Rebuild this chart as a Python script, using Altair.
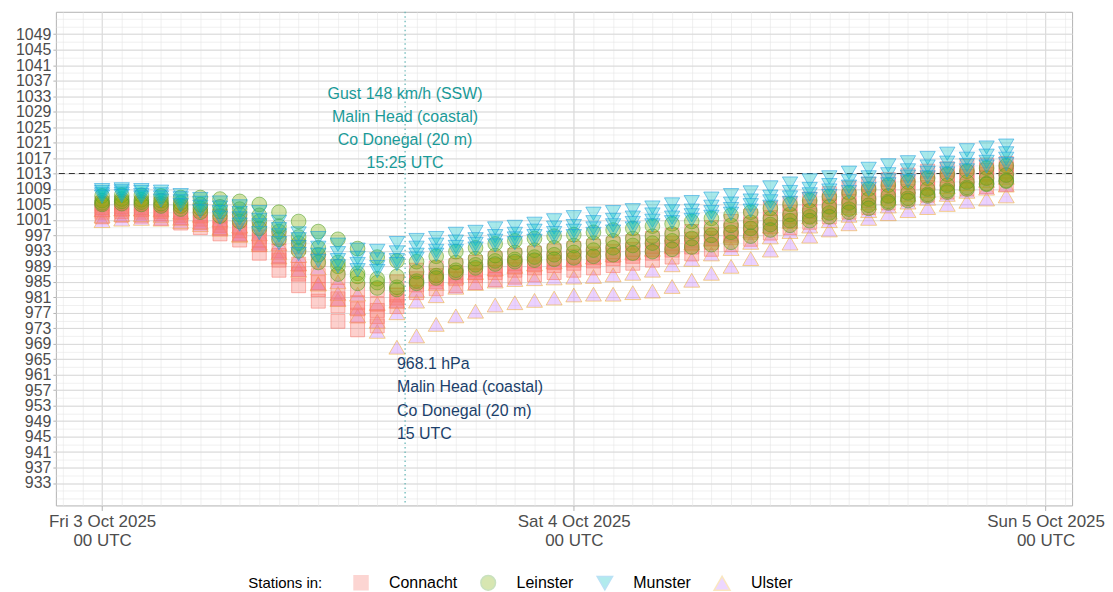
import altair as alt
import pandas as pd

# ---------------------------------------------------------------- data
PROVINCES = ["Connacht", "Leinster", "Munster", "Ulster"]
# hourly mean-sea-level pressure (hPa), hour 0 = Fri 3 Oct 2025 00 UTC
connacht = {
    "C1": [1005.2, 1005.4, 1005.2, 1005.0, 1004.4, 1003.4, 1002.0, 1001.0, 998.6, 996.4,
           994.0, 990.6, 986.2, 983.0, 983.0, 985.0, 988.0, 988.6, 989.2, 990.0,
           991.0, 991.8, 992.4, 993.0, 993.6, 994.2, 994.8, 995.4, 996.2, 997.0,
           998.0, 999.0, 1000.6, 1002.0, 1004.0, 1005.2, 1006.4, 1007.8, 1009.2, 1010.2,
           1011.4, 1012.6, 1013.6, 1014.2, 1014.8, 1015.2, 1015.6],
    "C2": [1004.2, 1004.4, 1004.2, 1003.8, 1003.0, 1002.0, 1000.4, 999.0, 996.6, 993.0,
           989.6, 986.6, 982.6, 979.6, 979.2, 981.6, 985.8, 986.6, 987.4, 988.2,
           989.2, 989.8, 990.4, 991.0, 991.6, 992.2, 992.8, 993.4, 994.2, 995.0,
           996.0, 997.2, 998.4, 999.8, 1001.6, 1003.0, 1004.4, 1005.8, 1007.0, 1008.2,
           1009.4, 1010.6, 1011.6, 1012.4, 1013.2, 1013.8, 1014.2],
    "C3": [1003.6, 1003.8, 1003.6, 1003.2, 1002.2, 1001.2, 999.6, 998.2, 995.6, 991.8,
           988.2, 984.8, 980.6, 978.0, 977.6, 980.8, 985.0, 985.8, 986.6, 987.4,
           988.2, 988.8, 989.4, 990.0, 990.6, 991.2, 991.8, 992.4, 993.2, 994.0,
           995.0, 996.2, 997.4, 998.8, 1000.4, 1001.8, 1003.2, 1004.6, 1005.8, 1007.0,
           1008.2, 1009.4, 1010.4, 1011.4, 1012.2, 1012.8, 1013.4],
    "C4": [1003.0, 1003.2, 1003.0, 1002.6, 1001.6, 1000.4, 998.8, 997.4, 994.6, 990.6,
           987.0, 983.0, 978.8, 976.4, 976.0, 980.0, 984.2, 985.0, 985.8, 986.6,
           987.4, 988.0, 988.6, 989.2, 989.8, 990.4, 991.0, 991.6, 992.4, 993.2,
           994.0, 995.2, 996.4, 997.8, 999.2, 1000.8, 1002.2, 1003.6, 1004.8, 1006.0,
           1007.2, 1008.4, 1009.4, 1010.4, 1011.2, 1012.0, 1012.6],
    "C5": [1001.8, 1002.2, 1002.0, 1001.4, 1000.2, 999.0, 997.4, 995.8, 992.4, 988.0,
           984.0, 980.0, 974.8, 972.6, 973.6, 978.6, 982.2, 983.2, 984.0, 984.8,
           985.6, 986.2, 986.8, 987.4, 988.0, 988.6, 989.2, 989.8, 990.6, 991.4,
           992.2, 993.4, 994.6, 996.0, 997.6, 999.0, 1000.4, 1001.8, 1003.0, 1004.2,
           1005.4, 1006.4, 1007.4, 1008.2, 1009.0, 1009.6, 1010.2],
}
leinster = {
    "L1": [1007.2, 1007.4, 1007.4, 1007.2, 1006.8, 1006.8, 1006.4, 1005.8, 1005.0, 1003.0,
           1000.6, 998.0, 996.0, 993.6, 991.4, 990.4, 990.2, 991.6, 992.8, 993.8,
           994.8, 995.6, 996.2, 996.8, 997.2, 997.8, 998.4, 998.8, 999.4, 1000.0,
           1000.6, 1001.4, 1002.2, 1003.0, 1004.0, 1005.0, 1006.0, 1007.0, 1008.0, 1009.0,
           1010.0, 1010.8, 1011.8, 1012.8, 1013.6, 1014.4, 1015.0],
    "L2": [1006.0, 1006.4, 1006.2, 1006.0, 1005.4, 1005.0, 1004.4, 1003.8, 1002.2, 999.4,
           996.6, 993.8, 990.0, 987.2, 984.8, 983.6, 985.2, 986.6, 988.0, 989.4,
           990.4, 990.8, 991.4, 992.0, 992.6, 993.2, 993.8, 994.4, 995.0, 995.6,
           996.2, 997.0, 997.8, 998.8, 999.8, 1000.8, 1001.8, 1002.8, 1003.8, 1004.8,
           1005.8, 1006.6, 1007.6, 1008.6, 1009.4, 1010.4, 1011.2],
    "L3": [1005.4, 1005.8, 1005.6, 1005.2, 1004.6, 1004.0, 1003.2, 1002.4, 1000.6, 998.0,
           995.0, 992.0, 989.0, 986.4, 985.8, 986.4, 987.6, 988.8, 990.0, 991.0,
           991.8, 992.6, 993.2, 993.8, 994.4, 995.0, 995.6, 996.2, 996.8, 997.4,
           998.0, 998.8, 999.6, 1000.4, 1001.4, 1002.4, 1003.4, 1004.4, 1005.4, 1006.4,
           1007.2, 1008.0, 1009.0, 1010.0, 1010.8, 1011.8, 1012.6],
    "L4": [1005.0, 1005.2, 1005.0, 1004.6, 1003.8, 1003.0, 1002.0, 1000.6, 998.8, 996.0,
           993.0, 990.0, 987.0, 984.6, 983.4, 983.0, 984.6, 986.0, 987.4, 988.6,
           989.6, 990.2, 990.6, 990.8, 991.2, 991.6, 992.0, 992.4, 992.8, 993.4,
           994.0, 994.6, 995.2, 996.8, 998.4, 999.6, 1000.8, 1001.8, 1003.0, 1004.0,
           1005.4, 1006.0, 1007.2, 1008.2, 1009.0, 1010.2, 1011.0],
}
munster = {
    "M1": [1008.7, 1008.9, 1008.7, 1008.3, 1007.4, 1006.4, 1005.5, 1004.5, 1003.0, 1000.5,
           997.5, 996.3, 994.6, 993.3, 993.0, 995.0, 995.8, 996.3, 997.4, 997.9,
           998.8, 999.2, 1000.0, 1000.9, 1001.7, 1002.6, 1003.0, 1003.5, 1004.2, 1005.0,
           1005.6, 1006.5, 1007.4, 1008.1, 1009.4, 1010.4, 1011.2, 1012.0, 1013.2, 1014.2,
           1015.1, 1015.9, 1017.0, 1018.1, 1019.0, 1019.7, 1020.2],
    "M2": [1008.2, 1008.4, 1008.2, 1007.6, 1006.6, 1005.4, 1004.2, 1002.8, 1001.0, 998.6,
           996.0, 993.8, 992.4, 991.2, 990.8, 992.6, 993.8, 994.6, 995.4, 996.0,
           996.8, 997.4, 998.2, 999.0, 999.4, 1000.4, 1001.0, 1001.6, 1002.4, 1003.2,
           1003.4, 1004.4, 1005.2, 1006.0, 1007.0, 1008.2, 1009.0, 1010.0, 1011.0, 1012.0,
           1012.8, 1013.8, 1014.8, 1015.8, 1016.8, 1017.6, 1018.2],
    "M3": [1007.6, 1007.8, 1007.4, 1006.8, 1005.8, 1004.4, 1003.0, 1001.4, 999.6, 997.0,
           994.0, 992.0, 990.6, 989.6, 988.8, 990.6, 992.0, 993.0, 994.0, 994.8,
           995.6, 996.2, 996.8, 997.6, 998.2, 998.8, 999.6, 1000.2, 1000.8, 1001.6,
           1002.2, 1003.0, 1003.8, 1004.8, 1005.8, 1006.8, 1007.6, 1008.6, 1009.6, 1010.4,
           1011.2, 1012.2, 1013.2, 1014.2, 1015.2, 1016.0, 1016.8],
    "M4": [1007.0, 1007.2, 1006.8, 1006.0, 1004.8, 1003.2, 1001.6, 999.8, 997.6, 995.0,
           992.2, 990.4, 989.0, 988.0, 987.8, 989.6, 991.0, 992.0, 993.0, 993.6,
           994.4, 995.0, 995.6, 996.4, 996.8, 997.4, 998.0, 998.8, 999.6, 1000.4,
           1001.0, 1001.8, 1002.6, 1003.4, 1004.4, 1005.4, 1006.4, 1007.2, 1008.2, 1009.0,
           1010.2, 1011.0, 1012.0, 1013.0, 1013.8, 1014.8, 1015.4],
}
ulster = {
    "U1": [1000.8, 1001.2, 1001.4, 1001.2, 1000.6, 999.8, 998.6, 997.0, 995.0, 992.6,
           989.6, 984.6, 980.4, 976.2, 972.2, 968.1, 971.0, 974.0, 976.2, 977.4,
           979.0, 979.6, 980.2, 980.8, 981.6, 981.8, 981.8, 982.2, 982.6, 983.8,
           985.4, 987.2, 989.0, 991.0, 993.2, 995.0, 996.8, 998.4, 1000.0, 1001.4,
           1002.6, 1003.4, 1004.2, 1005.0, 1005.8, 1006.4, 1007.2],
    "U2": [1002.0, 1002.4, 1002.4, 1002.2, 1001.4, 1000.4, 999.0, 997.2, 994.6, 991.4,
           988.0, 984.4, 982.0, 978.2, 974.8, 977.0, 980.0, 981.4, 983.6, 984.6,
           985.2, 985.6, 985.8, 986.0, 986.2, 986.4, 986.8, 987.2, 988.0, 989.4,
           990.8, 992.2, 993.6, 995.2, 996.6, 998.0, 999.4, 1000.8, 1002.2, 1003.4,
           1004.6, 1005.6, 1006.6, 1007.6, 1008.4, 1009.2, 1010.0],
    "U3": [1003.6, 1003.8, 1003.8, 1003.6, 1003.0, 1002.2, 1001.0, 999.4, 997.4, 994.8,
           991.8, 988.6, 985.0, 981.8, 979.4, 980.0, 982.8, 984.6, 986.2, 987.4,
           988.4, 989.0, 989.6, 990.2, 990.8, 991.4, 992.0, 992.6, 993.4, 994.2,
           995.0, 996.0, 997.0, 998.2, 999.4, 1000.6, 1001.8, 1003.0, 1004.2, 1005.4,
           1006.6, 1007.6, 1008.6, 1009.6, 1010.4, 1011.2, 1012.0],
}

GUST_TIME = "2025-10-03T15:25:00Z"
GUST_LINES = ["Gust 148 km/h (SSW)", "Malin Head (coastal)", "Co Donegal (20 m)", "15:25 UTC"]
MIN_TIME = "2025-10-03T15:00:00Z"
MIN_HPA = 968.1
MIN_LINES = ["968.1 hPa", "Malin Head (coastal)", "Co Donegal (20 m)", "15 UTC"]
STANDARD_HPA = 1013

Y_LABELS = list(range(933, 1050, 4))
Y_MINOR = list(range(929, 1055, 2))
X_LABEL_DAYS = [3, 4, 5]
X_DOMAIN = [(2, 21, 39), (5, 1, 21)]  # (date, hour, minute) UTC

# ---------------------------------------------------------------- table
def iso(h):
    return f"2025-10-{3 + h // 24:02d}T{h % 24:02d}:00:00Z"

rows = []
for prov, stations in [("Ulster", ulster), ("Connacht", connacht),
                       ("Leinster", leinster), ("Munster", munster)]:
    for st, vals in stations.items():
        for h, v in enumerate(vals):
            rows.append({"time": iso(h), "hPa": v, "province": prov, "station": st})
df = pd.DataFrame(rows)

def dt(d, h=0, m=0):
    return alt.DateTime(year=2025, month=10, date=d, hours=h, minutes=m, utc=True)

hour_ticks = [dt(2, h) for h in (21, 22, 23)] + [dt(d, h) for d in (3, 4) for h in range(24)] + [dt(5, 0), dt(5, 1)]

x_scale = alt.Scale(type="utc", domain=[dt(*X_DOMAIN[0]), dt(*X_DOMAIN[1])], nice=False)
y_scale = alt.Scale(domain=[927.2, 1054.8], nice=False, zero=False)

GRID = "#e6e6e6"
TEAL = "#1a9a98"
NAVY = "#1b3f6b"
LEG = "Stations in:"

grid_layer = alt.Chart(df).mark_point(opacity=0).encode(
    x=alt.X("time:T", scale=x_scale, title=None,
            axis=alt.Axis(orient="bottom", values=hour_ticks, grid=True, gridColor=GRID, gridWidth=0.6,
                          labels=False, ticks=False, domain=False)),
    y=alt.Y("hPa:Q", scale=y_scale, title=None,
            axis=alt.Axis(orient="left", values=Y_MINOR, grid=True, gridColor=GRID, gridWidth=0.6,
                          labels=False, ticks=False, domain=False)),
)

points = alt.Chart(df).mark_point(filled=True, fillOpacity=0.34, strokeOpacity=0.55, strokeWidth=1).encode(
    x=alt.X("time:T", scale=x_scale, title=None,
            axis=alt.Axis(orient="bottom", values=[dt(d) for d in X_LABEL_DAYS], grid=True,
                          gridColor="#d9d9d9", gridWidth=1, domain=False, tickColor="#b3b3b3",
                          tickSize=5, labelFontSize=17, labelColor="#4d4d4d", labelPadding=3,
                          labelLineHeight=19, labelOverlap=False,
                          labelExpr="[utcFormat(datum.value, '%a %-d %b %Y'), utcFormat(datum.value, '%H') + ' UTC']")),
    y=alt.Y("hPa:Q", scale=y_scale, title=None,
            axis=alt.Axis(orient="left", values=Y_LABELS, format="d", grid=True, gridColor="#d9d9d9",
                          gridWidth=1, domain=False, tickColor="#b3b3b3", tickSize=3,
                          labelFontSize=16, labelColor="#4d4d4d", labelPadding=2,
                          labelOverlap=False, labelBound=False)),
    fill=alt.Fill("province:N", title=LEG,
                  scale=alt.Scale(domain=PROVINCES, range=["#F8766D", "#7CAE00", "#00BFC4", "#C77CFF"]),
                  legend=alt.Legend(orient="none", legendX=193, legendY=564, direction="horizontal",
                                    titleOrient="left", titleFontSize=15, titleFontWeight="normal",
                                    titleColor="black", titleBaseline="middle", titlePadding=30,
                                    labelFontSize=16, labelColor="black", labelOffset=20,
                                    columnPadding=20, symbolOpacity=0.3)),
    stroke=alt.Stroke("province:N", title=LEG,
                      scale=alt.Scale(domain=PROVINCES, range=["#F8766D", "#4f9e2a", "#1e9ee0", "#f0b030"])),
    shape=alt.Shape("province:N", title=LEG,
                    scale=alt.Scale(domain=PROVINCES, range=["square", "circle", "triangle-down", "triangle-up"])),
    size=alt.Size("province:N", title=LEG,
                  scale=alt.Scale(domain=PROVINCES, range=[196, 256, 400, 400])),
)

vline = alt.Chart(pd.DataFrame({"t": [GUST_TIME]})).mark_rule(
    color="#5fb3b3", strokeDash=[1.5, 3], strokeWidth=1.2).encode(
    x=alt.X("t:T", scale=x_scale, axis=None))

hline = alt.Chart(pd.DataFrame({"p": [STANDARD_HPA]})).mark_rule(
    color="#333333", strokeDash=[6, 4], strokeWidth=1).encode(
    y=alt.Y("p:Q", scale=y_scale, axis=None))

gust_text = alt.Chart(pd.DataFrame({"t": [GUST_TIME], "p": [STANDARD_HPA]})).mark_text(
    text=GUST_LINES, align="center", baseline="top", dy=-88, lineHeight=23.3,
    fontSize=16, color=TEAL).encode(
    x=alt.X("t:T", scale=x_scale, axis=None),
    y=alt.Y("p:Q", scale=y_scale, axis=None))

min_text = alt.Chart(pd.DataFrame({"t": [MIN_TIME], "p": [MIN_HPA]})).mark_text(
    text=MIN_LINES, align="left", baseline="top", dy=9, lineHeight=23.3,
    fontSize=16, color=NAVY).encode(
    x=alt.X("t:T", scale=x_scale, axis=None),
    y=alt.Y("p:Q", scale=y_scale, axis=None))

chart = alt.layer(grid_layer, vline, hline, points, gust_text, min_text).resolve_axis(
    x="independent", y="independent"
).properties(
    width=1019, height=495,
    autosize=alt.AutoSizeParams(type="none"),
    padding={"left": 48, "top": 3, "right": 33, "bottom": 86},
).configure(font="Liberation Sans").configure_view(stroke="#b3b3b3", strokeWidth=1)

chart.save("out.html", embed_options={"renderer": "svg", "actions": False})
